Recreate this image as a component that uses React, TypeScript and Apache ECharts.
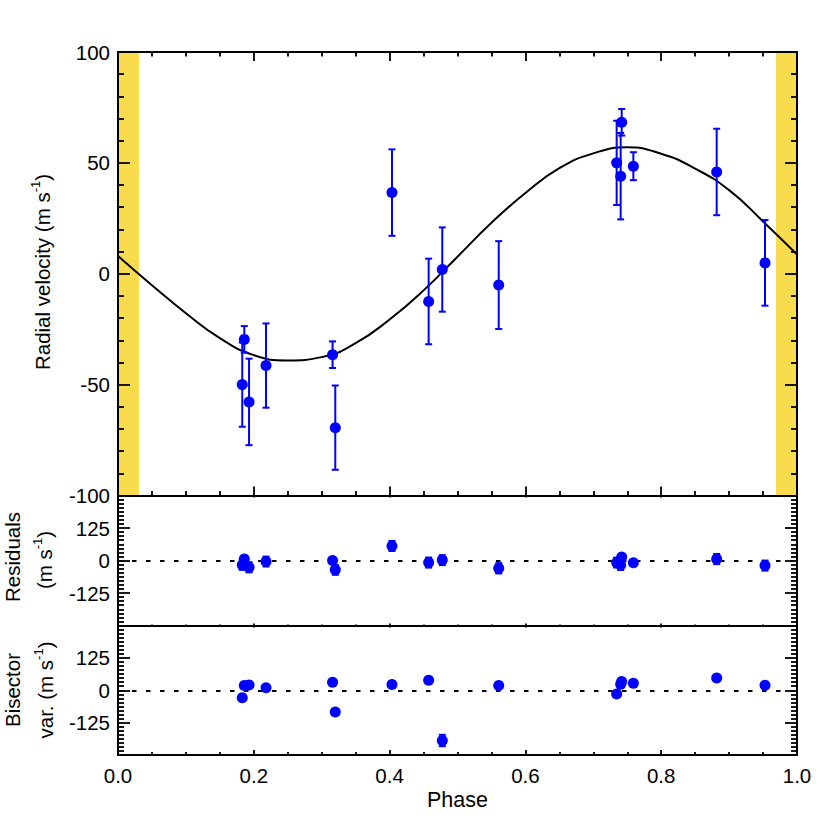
import React, { useEffect, useRef } from 'react';
import * as echarts from 'echarts';

// ---- data ----
const phase = [0.183, 0.186, 0.193, 0.218, 0.316, 0.320, 0.4035, 0.4575, 0.4776, 0.5607, 0.7344, 0.7403, 0.7418, 0.759, 0.8817, 0.9529];
const rv = [-50, -29.6, -57.8, -41.4, -36.5, -69.4, 36.6, -12.5, 1.9, -5.1, 50, 44, 68.3, 48.5, 45.9, 4.9];
const rvErr = [19, 6, 19.5, 19, 6, 19, 19.5, 19.3, 19, 19.8, 19, 19.5, 6, 6.3, 19.5, 19.3];
const residual = [-17, 5.5, -26, -4, 0, -36, 56, -8, 1.5, -30, -8, -17, 13, -9, 5.5, -19.5];
const bisector = [-29, 18, 20.7, 10, 31, -83.6, 22, 39, -194, 18, -14.5, 23, 33.6, 27, 47, 19.5];
const bisErr = [10, 10, 10, 10, 10, 10, 10, 10, 22, 10, 10, 10, 10, 10, 10, 10];

const curvePhase = [0, 0.05, 0.1, 0.15, 0.2, 0.25, 0.3, 0.35, 0.4, 0.45, 0.5, 0.55, 0.6, 0.65, 0.7, 0.75, 0.8, 0.85, 0.9, 0.95, 1.0];
const curveRV = [8, -5.2, -17.8, -29, -36.7, -39.1, -37.6, -31.3, -20.6, -7.5, 7.7, 23, 36.4, 47.6, 54.3, 57, 54.1, 47.4, 37.7, 23.6, 8.7];

const transitBands = [[0, 0.031], [0.969, 1]];

const xTicks = [0, 0.2, 0.4, 0.6, 0.8, 1.0];

const BLUE = '#0000ff';
const YELLOW = '#F9DC4E';
const FONT = "'Liberation Sans', Arial, Helvetica, sans-serif";
const FS = 20.5;

function xAxisDef(gi: number, pos: string, major: number, minor: number, labels: boolean) {
  return {
    type: 'value', gridIndex: gi, position: pos, min: 0, max: 1, interval: 0.2, z: 12,
    axisLine: { show: true, onZero: false, lineStyle: { color: '#000', width: 2 } },
    axisTick: { show: true, inside: true, length: major, lineStyle: { color: '#000', width: 1.8 } },
    minorTick: { show: true, splitNumber: 4, length: minor, lineStyle: { color: '#000', width: 1.8 } },
    splitLine: { show: false },
    axisLabel: labels
      ? { show: true, color: '#000', fontSize: FS, fontFamily: FONT, margin: 10, formatter: (v: number) => xTicks.find((t) => Math.abs(t - v) < 1e-6)!.toFixed(1) }
      : { show: false },
  };
}

function yAxisDef(gi: number, pos: string, min: number, max: number, interval: number, minorSplit: number, labels: boolean, hideEnds: boolean) {
  return {
    type: 'value', gridIndex: gi, position: pos, min, max, interval, z: 12,
    axisLine: { show: true, onZero: false, lineStyle: { color: '#000', width: 2 } },
    axisTick: { show: true, inside: true, length: 12, lineStyle: { color: '#000', width: 1.8 } },
    minorTick: { show: true, splitNumber: minorSplit, length: 6, lineStyle: { color: '#000', width: 1.8 } },
    splitLine: { show: false },
    axisLabel: labels
      ? { show: true, color: '#000', fontSize: FS, fontFamily: FONT, margin: 8, showMinLabel: !hideEnds, showMaxLabel: !hideEnds }
      : { show: false },
  };
}

function errRender(params: any, api: any) {
  const x = api.value(0);
  const p1 = api.coord([x, api.value(1)]);
  const p2 = api.coord([x, api.value(2)]);
  const cw = 3.5;
  const style = { stroke: BLUE, lineWidth: 2, fill: 'none' };
  return {
    type: 'group',
    children: [
      { type: 'line', shape: { x1: p1[0], y1: p1[1], x2: p2[0], y2: p2[1] }, style },
      { type: 'line', shape: { x1: p1[0] - cw, y1: p1[1], x2: p1[0] + cw, y2: p1[1] }, style },
      { type: 'line', shape: { x1: p2[0] - cw, y1: p2[1], x2: p2[0] + cw, y2: p2[1] }, style },
    ],
  };
}

function bandRender(params: any, api: any) {
  const a = api.coord([api.value(0), 100]);
  const b = api.coord([api.value(1), -100]);
  return { type: 'rect', shape: { x: a[0], y: a[1], width: b[0] - a[0], height: b[1] - a[1] }, style: { fill: YELLOW } };
}

const zeroLine = {
  silent: true, symbol: 'none', label: { show: false },
  lineStyle: { color: '#000', type: [4.5, 9.5], width: 2 },
  data: [{ yAxis: 0 }],
};

function rotLabel(x: number, y: number, text: string, lh = 26) {
  return {
    type: 'text', x, y, rotation: Math.PI / 2, z: 20,
    style: {
      text, fill: '#000', align: 'center', verticalAlign: 'middle', fontFamily: FONT, fontSize: FS,
      rich: {
        a: { fontSize: FS, fontFamily: FONT, fill: '#000', lineHeight: lh },
        s: { fontSize: 13, fontFamily: FONT, fill: '#000', lineHeight: 14, verticalAlign: 'top' },
      },
    },
  };
}

export default function App() {
  const ref = useRef<HTMLDivElement>(null);
  useEffect(() => {
    const chart = echarts.init(ref.current!, null, { renderer: 'svg' });
    const option: any = {
      animation: false,
      backgroundColor: '#fff',
      grid: [
        { left: 118, width: 679, top: 52, height: 443.5 },
        { left: 118, width: 679, top: 495.5, height: 130 },
        { left: 118, width: 679, top: 625.5, height: 129.5 },
      ],
      xAxis: [
        xAxisDef(0, 'bottom', 9, 4.5, false),
        xAxisDef(0, 'top', 9, 4.5, false),
        xAxisDef(1, 'bottom', 2, 1, false),
        xAxisDef(1, 'top', 2, 1, false),
        xAxisDef(2, 'bottom', 5, 3, true),
        xAxisDef(2, 'top', 2, 1, false),
      ],
      yAxis: [
        yAxisDef(0, 'left', -100, 100, 50, 5, true, false),
        yAxisDef(0, 'right', -100, 100, 50, 5, false, false),
        yAxisDef(1, 'left', -250, 250, 125, 8, true, true),
        yAxisDef(1, 'right', -250, 250, 125, 8, false, false),
        yAxisDef(2, 'left', -250, 250, 125, 8, true, true),
        yAxisDef(2, 'right', -250, 250, 125, 8, false, false),
      ],
      series: [
        { type: 'custom', xAxisIndex: 0, yAxisIndex: 0, z: 1, renderItem: bandRender, data: transitBands, encode: { x: [0, 1] }, silent: true },
        {
          type: 'line', xAxisIndex: 0, yAxisIndex: 0, z: 5, smooth: 0.5, symbol: 'none',
          lineStyle: { color: '#000', width: 2 },
          data: curvePhase.map((p, i) => [p, curveRV[i]]),
        },
        {
          type: 'custom', xAxisIndex: 0, yAxisIndex: 0, z: 6, renderItem: errRender, encode: { x: 0, y: [1, 2] },
          data: phase.map((p, i) => [p, rv[i] - rvErr[i], rv[i] + rvErr[i]]),
        },
        {
          type: 'scatter', xAxisIndex: 0, yAxisIndex: 0, z: 7, symbol: 'circle', symbolSize: 11,
          itemStyle: { color: BLUE, opacity: 1 }, data: phase.map((p, i) => [p, rv[i]]),
        },
        {
          type: 'custom', xAxisIndex: 2, yAxisIndex: 2, z: 6, renderItem: errRender, encode: { x: 0, y: [1, 2] },
          markLine: zeroLine,
          data: phase.map((p, i) => [p, residual[i] - rvErr[i], residual[i] + rvErr[i]]),
        },
        {
          type: 'scatter', xAxisIndex: 2, yAxisIndex: 2, z: 7, symbol: 'circle', symbolSize: 11,
          itemStyle: { color: BLUE, opacity: 1 }, data: phase.map((p, i) => [p, residual[i]]),
        },
        {
          type: 'custom', xAxisIndex: 4, yAxisIndex: 4, z: 6, renderItem: errRender, encode: { x: 0, y: [1, 2] },
          markLine: zeroLine,
          data: phase.map((p, i) => [p, bisector[i] - bisErr[i], bisector[i] + bisErr[i]]),
        },
        {
          type: 'scatter', xAxisIndex: 4, yAxisIndex: 4, z: 7, symbol: 'circle', symbolSize: 11,
          itemStyle: { color: BLUE, opacity: 1 }, data: phase.map((p, i) => [p, bisector[i]]),
        },
      ],
      graphic: [
        rotLabel(42, 272, '{a|Radial velocity (m s}{s|-1}{a|)}'),
        rotLabel(12, 557, '{a|Residuals}', 18),
        rotLabel(44, 560, '{a|(m s}{s|-1}{a|)}'),
        rotLabel(12, 690, '{a|Bisector}', 18),
        rotLabel(45, 690, '{a|var. (m s}{s|-1}{a|)}'),
        {
          type: 'text', x: 457.5, y: 800, z: 20,
          style: { text: 'Phase', fill: '#000', align: 'center', verticalAlign: 'middle', fontFamily: FONT, fontSize: 21.5 },
        },
      ],
    };
    chart.setOption(option);
    return () => chart.dispose();
  }, []);
  return <div ref={ref} style={{ position: 'fixed', left: 0, top: 0, width: 830, height: 830, background: '#fff' }} />;
}
